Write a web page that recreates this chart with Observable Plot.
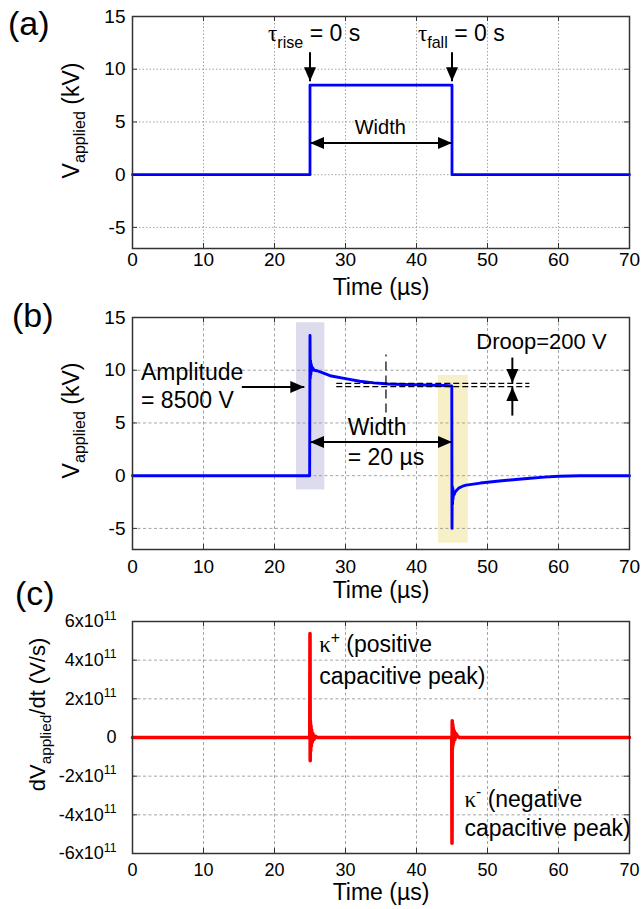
<!DOCTYPE html>
<html><head><meta charset="utf-8">
<script src="https://cdn.jsdelivr.net/npm/d3@7"></script>
<script src="https://cdn.jsdelivr.net/npm/@observablehq/plot@0.6"></script>
<style>
body{margin:0;background:#fff;}
#fig{position:relative;width:642px;height:909px;background:#fff;overflow:hidden;font-family:'Liberation Sans',Arial,sans-serif;}
#fig svg text{white-space:pre;}
.panel{position:absolute;left:0;}
.plab{position:absolute;font-size:34px;line-height:34px;color:#000;}
</style></head><body><div id="fig"></div>
<script>
// ---------- data ----------
const xTicks = [0, 10, 20, 30, 40, 50, 60, 70];
const vTicks = [-5, 0, 5, 10, 15];
const dTicks = [-6e11, -4e11, -2e11, 0, 2e11, 4e11, 6e11];

// (a) ideal square pulse, [time µs, kV]
const ideal = [[0, 0], [25, 0], [25, 8.5], [45, 8.5], [45, 0], [70, 0]];

// (b) measured pulse, [time µs, kV]
const measured = [
  [0, 0], [5, 0], [10, 0], [15, 0], [20, 0], [24.95, 0],
  [25.0, 13.3], [25.04, 9.2], [25.08, 10.9], [25.12, 9.6], [25.16, 10.6], [25.2, 9.9],
  [25.25, 10.4], [25.3, 10.0], [25.4, 10.2], [25.6, 10.0], [26, 9.95], [27, 9.7],
  [28, 9.45], [30, 9.2], [32, 8.95], [34, 8.8], [36, 8.7], [38, 8.65], [40, 8.62],
  [42, 8.58], [44, 8.55], [44.97, 8.52],
  [45.0, -5.0], [45.04, -1.0], [45.08, -2.7], [45.12, -1.2], [45.16, -2.2], [45.2, -1.5],
  [45.3, -1.8], [45.45, -1.55], [45.7, -1.35], [46, -1.15], [46.5, -1.0], [47, -0.9],
  [48, -0.8], [49, -0.7], [50, -0.62], [52, -0.48], [54, -0.36], [56, -0.25],
  [58, -0.14], [60, -0.05], [63, 0], [66, 0], [70, 0]
];

// (c) derivative, [time µs, V/s]
const derivative = [
  [0, 0], [10, 0], [20, 0], [24.97, 0],
  [25.0, 5.38e11], [25.03, -1.2e11], [25.06, 0.85e11], [25.1, -0.7e11], [25.14, 0.6e11],
  [25.18, -0.45e11], [25.23, 0.4e11], [25.3, -0.25e11], [25.4, 0.2e11], [25.55, -0.1e11],
  [25.75, 0.06e11], [26, 0], [35, 0], [44.97, 0],
  [45.0, -5.47e11], [45.03, 0.87e11], [45.06, -0.6e11], [45.1, 0.7e11], [45.14, -0.4e11],
  [45.18, 0.5e11], [45.23, -0.25e11], [45.3, 0.35e11], [45.4, -0.1e11], [45.55, 0.2e11],
  [45.75, 0.08e11], [46, 0], [55, 0], [70, 0]
];

// ---------- annotations (data units) ----------
const textsA = [
  {x: 19.1, y: 13.4, text: "τ_{rise} = 0 s", anchor: "start", size: 23},
  {x: 40.2, y: 13.4, text: "τ_{fall} = 0 s", anchor: "start", size: 23},
  {x: 34.9, y: 4.5, text: "Width", anchor: "middle", size: 20}
];
const arrowsA = [
  {x1: 25, y1: 11.6, x2: 25, y2: 8.85},
  {x1: 45, y1: 11.6, x2: 45, y2: 8.85},
  {x1: 25, y1: 3.0, x2: 45, y2: 3.0, both: true}
];

const boxesB = [
  {x1: 23.1, x2: 27.1, y1: -1.35, y2: 14.5, fill: "#dcdcee"},
  {x1: 43.1, x2: 47.3, y1: -6.4, y2: 9.5, fill: "#f7f0c6"}
];
const textsB = [
  {x: 1.2, y: 9.8, text: "Amplitude", anchor: "start", size: 23},
  {x: 1.2, y: 7.1, text: "= 8500 V", anchor: "start", size: 23},
  {x: 30.3, y: 4.6, text: "Width", anchor: "start", size: 23},
  {x: 30.3, y: 1.75, text: "= 20 µs", anchor: "start", size: 23},
  {x: 57.6, y: 12.65, text: "Droop=200 V", anchor: "middle", size: 22}
];
const arrowsB = [
  {x1: 15.4, y1: 8.4, x2: 24.2, y2: 8.4},
  {x1: 25, y1: 3.2, x2: 45, y2: 3.2, both: true},
  {x1: 53.5, y1: 11.2, x2: 53.5, y2: 8.8},
  {x1: 53.5, y1: 5.7, x2: 53.5, y2: 8.4}
];
const dashH = [{x1: 28.7, x2: 55.9, y: 8.75}, {x1: 28.7, x2: 55.9, y: 8.45}];
const dashV = [{x: 35.7, y1: 6.0, y2: 11.5}];

const textsC = [
  {x: 26.3, y: 4.78e11, text: "κ^{+} (positive", anchor: "start", size: 23},
  {x: 26.3, y: 3.13e11, text: "capacitive peak)", anchor: "start", size: 23},
  {x: 46.75, y: -3.19e11, text: "κ^{-} (negative", anchor: "start", size: 23},
  {x: 46.75, y: -4.69e11, text: "capacitive peak)", anchor: "start", size: 23}
];

// ---------- helpers ----------
const FONT = "'Liberation Sans', Arial, sans-serif";
const W = 642, ML = 132, MR = 13;
const head = {draw(ctx) { ctx.moveTo(0, 0); ctx.lineTo(6, 14); ctx.lineTo(-6, 14); ctx.closePath(); }};

function arrowLayer(arrows) {
  const heads = [];
  for (const a of arrows) {
    const rot = a.x1 === a.x2 ? (a.y2 > a.y1 ? 0 : 180) : (a.x2 > a.x1 ? 90 : -90);
    heads.push({x: a.x2, y: a.y2, rot});
    if (a.both) heads.push({x: a.x1, y: a.y1, rot: rot + 180});
  }
  return [
    Plot.link(arrows, {x1: "x1", y1: "y1", x2: "x2", y2: "y2", stroke: "#000", strokeWidth: 2}),
    Plot.dot(heads, {x: "x", y: "y", rotate: "rot", symbol: head, r: 5, fill: "#000", stroke: "none"})
  ];
}
function textLayer(texts) {
  return texts.map(t => Plot.text([t], {x: "x", y: "y", text: "text", textAnchor: t.anchor, fontSize: t.size, lineAnchor: "middle", fill: "#000"}));
}

function makePanel(o) {
  const plotH = o.height - o.mt - o.mb;
  const plotW = W - ML - MR;
  const tickStyle = {stroke: "#333", strokeWidth: 1};
  return Plot.plot({
    width: W, height: o.height,
    marginLeft: ML, marginRight: MR, marginTop: o.mt, marginBottom: o.mb,
    x: {domain: [0, 70]},
    y: {domain: o.yDomain},
    style: {fontFamily: FONT, fontSize: "19px", color: "#000", background: "transparent", overflow: "visible"},
    marks: [
      ...(o.under || []),
      Plot.gridX({ticks: xTicks, stroke: "#9a9a9a", strokeOpacity: 1, strokeDasharray: o.dash, strokeWidth: 0.9}),
      Plot.gridY({ticks: o.yTicks, stroke: "#9a9a9a", strokeOpacity: 1, strokeDasharray: o.dash, strokeWidth: 0.9}),
      Plot.ruleX(xTicks, {x: d => d, insetTop: plotH - 5, ...tickStyle}),
      Plot.ruleX(xTicks, {x: d => d, insetBottom: plotH - 5, ...tickStyle}),
      Plot.ruleY(o.yTicks, {y: d => d, insetRight: plotW - 5, ...tickStyle}),
      Plot.ruleY(o.yTicks, {y: d => d, insetLeft: plotW - 5, ...tickStyle}),
      ...o.marks,
      Plot.frame({stroke: "#333", strokeWidth: 1.5}),
      Plot.axisX({ticks: xTicks, tickSize: 0, tickPadding: o.xPad, fontSize: o.tickFont, label: null, tickFormat: d => String(d)}),
      Plot.axisY({ticks: o.yTicks, tickSize: 0, tickPadding: o.yPad, fontSize: o.tickFont, label: null, tickFormat: o.yFmt}),
      Plot.text(["Time (µs)"], {text: d => d, frameAnchor: "bottom", dy: o.timeDy, fontSize: 23, lineAnchor: "middle"}),
      Plot.text([o.yLabel], {text: d => d, frameAnchor: "left", rotate: -90, dx: o.ylabDx, dy: o.ylabDy, fontSize: o.ylabFont || 23, lineAnchor: "bottom", textAnchor: "middle"})
    ]
  });
}

// rich text: _{sub}, ^{sup}, Greek letters in serif
function richify(root) {
  const NS = "http://www.w3.org/2000/svg";
  root.querySelectorAll("text").forEach(t => {
    const s = t.textContent;
    if (!/[_^]\{|[τκ]/.test(s)) return;
    const F = parseFloat(getComputedStyle(t).fontSize);
    const parts = s.split(/([_^]\{[^}]*\})/).filter(p => p !== "");
    t.textContent = "";
    let shift = 0;
    for (const p of parts) {
      let txt = p, target = 0, size = null;
      if (p.startsWith("_{")) { txt = p.slice(2, -1); target = 0.3 * F; size = 0.7 * F; }
      else if (p.startsWith("^{")) { txt = p.slice(2, -1); target = -0.42 * F; size = 0.68 * F; }
      const bits = txt.split(/([τκ])/).filter(q => q !== "");
      let first = true;
      for (const q of bits) {
        const ts = document.createElementNS(NS, "tspan");
        if (first) { const d = target - shift; if (d) ts.setAttribute("dy", d.toFixed(2)); shift = target; first = false; }
        if (size) ts.setAttribute("font-size", size.toFixed(2));
        if (/[τκ]/.test(q)) ts.setAttribute("font-family", "'Liberation Serif', serif");
        ts.textContent = q;
        t.appendChild(ts);
      }
    }
  });
}

// ---------- panels ----------
const fig = document.getElementById("fig");
const vFmt = d => String(d);
const dFmt = d => d === 0 ? "0" : `${d / 1e11}x10^{11}`;

const panels = [
  {top: 0, opts: {
    height: 300, mt: 16, mb: 52, yDomain: [-7, 15], yTicks: vTicks, yFmt: vFmt, dash: "1.5,2",
    xPad: 4, yPad: 7, tickFont: 19, timeDy: 39, ylabDx: -54, ylabDy: -12, yLabel: "V_{applied} (kV)",
    marks: [
      Plot.line(ideal, {x: d => d[0], y: d => d[1], stroke: "#0000ff", strokeWidth: 2.8}),
      ...arrowLayer(arrowsA),
      ...textLayer(textsA)
    ]}},
  {top: 300, opts: {
    height: 300, mt: 17, mb: 51, yDomain: [-7, 15], yTicks: vTicks, yFmt: vFmt, dash: "3,2.5",
    xPad: 10, yPad: 7, tickFont: 19, timeDy: 41, ylabDx: -54, ylabDy: -13, yLabel: "V_{applied} (kV)",
    under: [Plot.rect(boxesB, {x1: "x1", x2: "x2", y1: "y1", y2: "y2", fill: "fill"})],
    marks: [
      Plot.line(measured, {x: d => d[0], y: d => d[1], stroke: "#0000ff", strokeWidth: 2.9}),
      Plot.link(dashH, {x1: "x1", x2: "x2", y1: "y", y2: "y", stroke: "#000", strokeWidth: 1.2, strokeDasharray: "6,3"}),
      Plot.link(dashV, {x1: "x", x2: "x", y1: "y1", y2: "y2", stroke: "#000", strokeWidth: 1.2, strokeDasharray: "9,5"}),
      ...arrowLayer(arrowsB),
      ...textLayer(textsB)
    ]}},
  {top: 600, opts: {
    height: 309, mt: 21, mb: 56, yDomain: [-6e11, 6e11], yTicks: dTicks, yFmt: dFmt, dash: "3,2.5",
    xPad: 10, yPad: 16, tickFont: 18, timeDy: 39, ylabDx: -88, ylabDy: -23, ylabFont: 22, yLabel: "dV_{applied}/dt (V/s)",
    marks: [
      Plot.line(derivative, {x: d => d[0], y: d => d[1], stroke: "#ff0000", strokeWidth: 3.6}),
      ...textLayer(textsC)
    ]}}
];

for (const p of panels) {
  const svg = makePanel(p.opts);
  const div = document.createElement("div");
  div.className = "panel";
  div.style.top = p.top + "px";
  div.appendChild(svg);
  fig.appendChild(div);
  richify(svg);
}

[["(a)", 8, 6], ["(b)", 12, 298], ["(c)", 15, 576]].forEach(([s, x, y]) => {
  const d = document.createElement("div");
  d.className = "plab";
  d.style.left = x + "px";
  d.style.top = y + "px";
  d.textContent = s;
  fig.appendChild(d);
});
</script></body></html>
